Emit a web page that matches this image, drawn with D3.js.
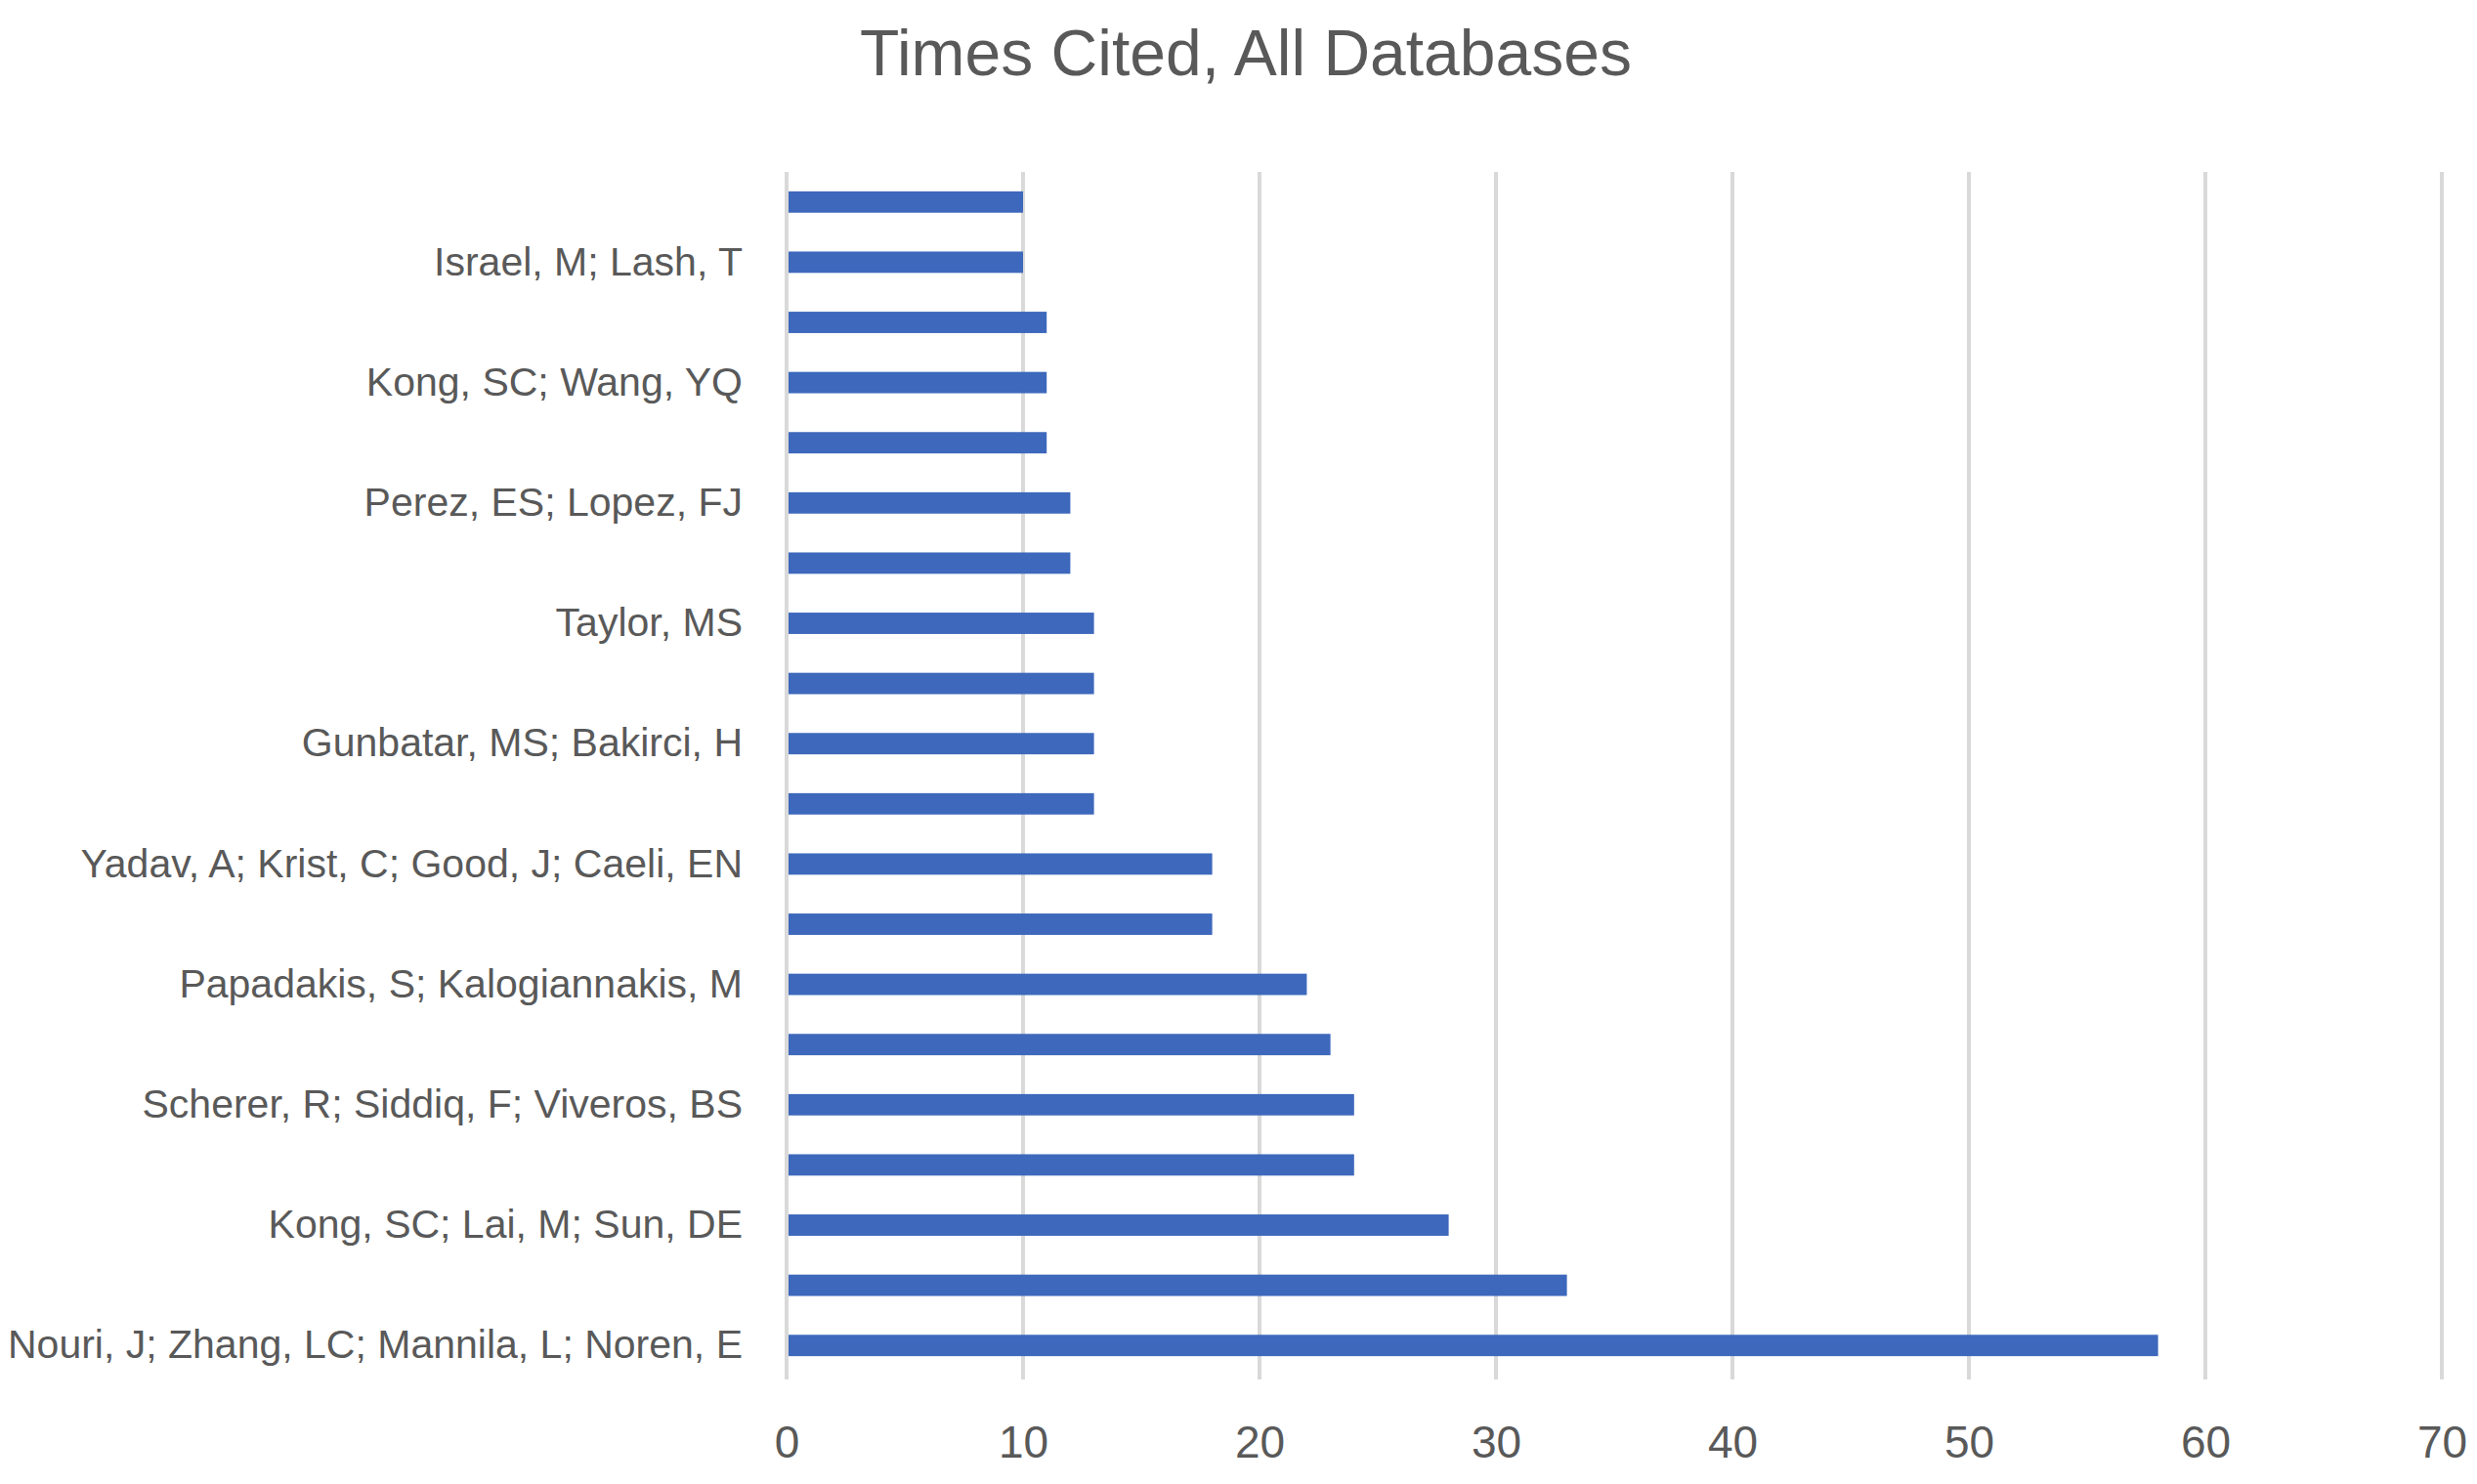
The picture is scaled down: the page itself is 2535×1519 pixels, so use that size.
<!DOCTYPE html>
<html>
<head>
<meta charset="utf-8">
<script src="https://cdn.jsdelivr.net/npm/d3@7"></script>
<style>
  html, body { margin: 0; padding: 0; background: #ffffff; }
  svg { display: block; }
</style>
</head>
<body>
<script>
// ---- data (top-to-bottom order as drawn) ----
const title = "Times Cited, All Databases";
const categories = [
  "", "Israel, M; Lash, T", "", "Kong, SC; Wang, YQ", "",
  "Perez, ES; Lopez, FJ", "", "Taylor, MS", "", "Gunbatar, MS; Bakirci, H",
  "", "Yadav, A; Krist, C; Good, J; Caeli, EN", "", "Papadakis, S; Kalogiannakis, M", "",
  "Scherer, R; Siddiq, F; Viveros, BS", "", "Kong, SC; Lai, M; Sun, DE", "", "Nouri, J; Zhang, LC; Mannila, L; Noren, E"
];
const values = [10, 10, 11, 11, 11, 12, 12, 13, 13, 13, 13, 18, 18, 22, 23, 24, 24, 28, 33, 58];
const xTicks = [0, 10, 20, 30, 40, 50, 60, 70];

// ---- layout ----
const W = 2535, H = 1519;
const plot = { left: 805, right: 2499, top: 176, bottom: 1412 };
const font = "'Liberation Sans', Arial, sans-serif";
const textColor = "#595959";

const svg = d3.select("body").append("svg")
  .attr("width", W).attr("height", H)
  .attr("viewBox", `0 0 ${W} ${H}`);

const x = d3.scaleLinear().domain([0, 70]).range([plot.left, plot.right]);
const y = d3.scaleBand()
  .domain(d3.range(categories.length))
  .range([plot.top, 1408])
  .paddingInner(0.645)
  .paddingOuter(0.3225);

// title
svg.append("text")
  .attr("x", 1275).attr("y", 77)
  .attr("text-anchor", "middle")
  .attr("font-family", font)
  .attr("font-size", 66)
  .attr("fill", textColor)
  .text(title);

// gridlines
svg.append("g")
  .selectAll("line")
  .data(xTicks)
  .join("line")
  .attr("x1", d => x(d)).attr("x2", d => x(d))
  .attr("y1", plot.top).attr("y2", plot.bottom)
  .attr("stroke", "#d9d9d9")
  .attr("stroke-width", 4);

// bars
svg.append("g")
  .selectAll("rect")
  .data(values)
  .join("rect")
  .attr("x", x(0) + 2)
  .attr("y", (d, i) => y(i))
  .attr("width", d => x(d) - x(0) - 2)
  .attr("height", y.bandwidth())
  .attr("fill", "#3d68bc");

// x axis labels
const xAxis = d3.axisBottom(x).tickValues(xTicks).tickSize(0).tickPadding(0);
const gx = svg.append("g")
  .attr("transform", `translate(0, ${plot.bottom + 47})`)
  .call(xAxis);
gx.select(".domain").remove();
gx.selectAll("text")
  .attr("font-family", font)
  .attr("font-size", 46)
  .attr("fill", textColor)
  .attr("dy", "0.71em");

// y axis labels
const yAxis = d3.axisLeft(y).tickSize(0).tickPadding(45).tickFormat(i => categories[i]);
const gy = svg.append("g")
  .attr("transform", `translate(${plot.left}, 0)`)
  .call(yAxis);
gy.select(".domain").remove();
gy.selectAll("text")
  .attr("font-family", font)
  .attr("font-size", 41)
  .attr("fill", textColor);
</script>
</body>
</html>
